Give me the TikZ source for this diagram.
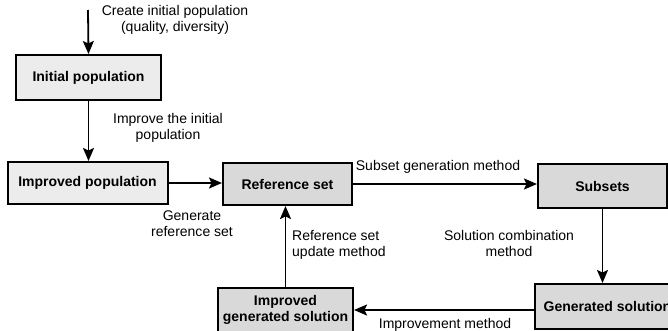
\documentclass[tikz,border=0pt]{standalone}
\usepackage{fontspec}
\setmainfont{Liberation Sans}
\usetikzlibrary{arrows.meta}
\definecolor{boxlight}{HTML}{ECECEC}
\definecolor{boxdark}{HTML}{D9D9D9}
\begin{document}
\begin{tikzpicture}[x=1pt,y=-1pt,
  stagebox/.style={draw=black, line width=2pt, inner sep=0pt, align=center,
    font=\fontsize{14}{16}\selectfont\bfseries},
  lightbox/.style={stagebox, fill=boxlight},
  darkbox/.style={stagebox, fill=boxdark},
  flow/.style={line width=1.8pt, -{Stealth[length=13pt,width=11pt,inset=2.5pt]}},
  lbl/.style={inner sep=0pt, font=\fontsize{14}{16}\selectfont, align=center}]
\useasboundingbox (0,0) rectangle (668,331);
\clip (0,0) rectangle (668,331);
\node[lightbox, minimum width=145pt, minimum height=45pt] (init) at (88.5,77.5) {Initial population};
\node[lightbox, minimum width=160pt, minimum height=42pt] (imppop) at (87.5,183) {Improved population};
\node[darkbox, minimum width=129pt, minimum height=42pt] (ref) at (287.5,184) {Reference set};
\node[darkbox, minimum width=129pt, minimum height=44pt] (sub) at (602.5,186) {Subsets};
\node[darkbox, minimum width=145pt, minimum height=45pt] (gen) at (607.5,306.5) {Generated solution};
\node[darkbox, minimum width=135pt, minimum height=44pt] (impgen) at (285.5,310) {Improved\\generated solution};
\coordinate (start) at (88,10);
\draw[flow] (start) -- (init.north);
\draw[flow] (init.south) -- (init.south |- imppop.north);
\draw[flow] (imppop.east) -- (imppop.east -| ref.west);
\draw[flow] (ref.east) -- (ref.east -| sub.west);
\draw[flow] (sub.south) -- (sub.south |- gen.north);
\draw[flow] (gen.west |- impgen.east) -- (impgen.east);
\draw[flow] (impgen.north) -- (impgen.north |- ref.south);
\node[lbl] (l1) at (175,20) {Create initial population\\(quality, diversity)};
\node[lbl] (l2) at (168,128) {Improve the initial\\population};
\node[lbl] (l3) at (192,224) {Generate\\reference set};
\node[lbl] (l4) at (438,167) {Subset generation method};
\node[lbl] (l5) at (509,243) {Solution combination\\method};
\node[lbl, align=left, anchor=west] (l6) at (292,245) {Reference set\\update method};
\node[lbl] (l7) at (445,325) {Improvement method};
\end{tikzpicture}
\end{document}
